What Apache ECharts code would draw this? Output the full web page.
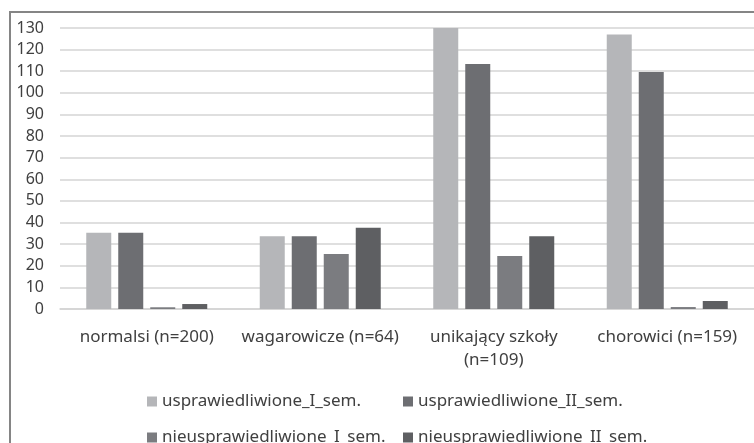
<!DOCTYPE html>
<html>
<head>
<meta charset="utf-8">
<script src="https://cdn.jsdelivr.net/npm/echarts@6/dist/echarts.min.js"></script>
<style>
  html, body { margin: 0; padding: 0; background: #ffffff; }
  #chart { width: 754px; height: 443px; }
</style>
</head>
<body>
<div id="chart"></div>
<script>
// Groups of pupils and absence counts per semester
const categories = ['normalsi (n=200)', 'wagarowicze (n=64)', 'unikający szkoły\n(n=109)', 'chorowici (n=159)'];
const seriesNames = ['usprawiedliwione_I_sem.', 'usprawiedliwione_II_sem.', 'nieusprawiedliwione_I_sem.', 'nieusprawiedliwione_II_sem.'];
const usprawiedliwioneI = [35.3, 33.6, 130, 127];
const usprawiedliwioneII = [35.3, 33.6, 113.3, 109.6];
const nieusprawiedliwioneI = [0.8, 25.4, 24.5, 0.9];
const nieusprawiedliwioneII = [2.3, 37.6, 33.6, 3.7];
const yTicks = { min: 0, max: 130, step: 10 };

const colors = ['#b5b6b9', '#6d6e72', '#7b7c80', '#5e5f62'];
const values = [usprawiedliwioneI, usprawiedliwioneII, nieusprawiedliwioneI, nieusprawiedliwioneII];
const font = 'Noto Sans';
const textColor = '#404040';

// legend laid out as a 2 x 2 block: one legend component per entry
const legendSlots = [
  { left: 147, top: 393 },
  { left: 403, top: 393 },
  { left: 147, top: 429 },
  { left: 403, top: 429 }
];

const chart = echarts.init(document.getElementById('chart'), null, { renderer: 'canvas' });

chart.setOption({
  animation: false,
  color: colors,
  graphic: [{
    type: 'rect',
    shape: { x: 10, y: 12, width: 800, height: 500 },
    style: { fill: 'none', stroke: '#858585', lineWidth: 2 },
    z: -10
  }],
  grid: { left: 60, right: 0, top: 28, bottom: 134 },
  legend: seriesNames.map((name, i) => ({
    data: [name],
    left: legendSlots[i].left,
    top: legendSlots[i].top,
    padding: 0,
    itemWidth: 10, itemHeight: 10,
    icon: 'rect',
    textStyle: { fontFamily: font, fontSize: 17, color: textColor }
  })),
  xAxis: {
    type: 'category',
    data: categories,
    axisLine: { show: true, lineStyle: { color: '#d4d4d4', width: 1.5 } },
    axisTick: { show: false },
    axisLabel: { fontFamily: font, fontSize: 17, color: textColor, margin: 17, lineHeight: 23, interval: 0 }
  },
  yAxis: {
    type: 'value',
    min: yTicks.min, max: yTicks.max, interval: yTicks.step,
    axisLine: { show: false },
    axisTick: { show: false },
    splitLine: { lineStyle: { color: '#d4d4d4', width: 1.5 } },
    axisLabel: { fontFamily: font, fontSize: 16, color: textColor, margin: 16 }
  },
  series: seriesNames.map((name, i) => ({
    name: name,
    type: 'bar',
    data: values[i],
    barWidth: 25,
    barGap: '28%',
    itemStyle: { color: colors[i] }
  }))
});
</script>
</body>
</html>
